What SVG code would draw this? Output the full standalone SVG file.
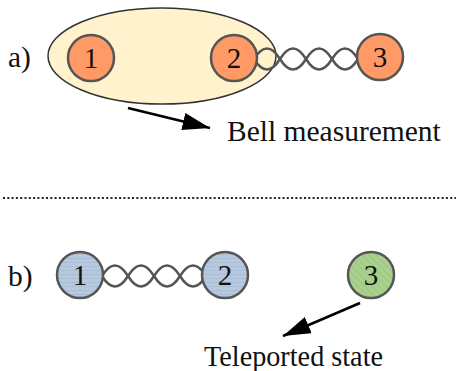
<svg xmlns="http://www.w3.org/2000/svg" width="456" height="371" viewBox="0 0 456 371">
<style>
.lbl{font-family:"Liberation Serif","Times New Roman",serif;font-size:29.5px;fill:#111}
.num{font-family:"Liberation Serif","Times New Roman",serif;font-size:29px;fill:#111;text-anchor:middle}
.node{stroke:#555;stroke-width:2.5}
.orange{fill:#ff9a66}
.twist{fill:none;stroke:#555;stroke-width:2.5}
.arrow{stroke:#000;stroke-width:2.5;fill:none}
</style>
<defs>
<pattern id="blueHatch" width="4" height="4" patternUnits="userSpaceOnUse">
<rect width="4" height="4" fill="#b7c9de"/>
<rect y="2" width="4" height="1" fill="#a9bdd4"/>
</pattern>
<pattern id="greenHatch" width="5" height="5" patternUnits="userSpaceOnUse" patternTransform="rotate(-45)">
<rect width="5" height="5" fill="#a9d18e"/>
<rect width="1" height="5" fill="#9cc57f"/>
</pattern>
<marker id="head" viewBox="0 0 10 10" refX="10" refY="5" markerWidth="11" markerHeight="7" markerUnits="strokeWidth" orient="auto" preserveAspectRatio="none">
<path d="M0,0 L10,5 L0,10 z" fill="#000"/>
</marker>
</defs>

<g id="label-a"><text class="lbl" x="8" y="67">a)</text></g>
<g id="bell-ellipse"><ellipse cx="162" cy="56" rx="114" ry="48" fill="#fff2cc" stroke="#333" stroke-width="1.5"/></g>

<g id="connectors">
<path class="twist" d="M254,59 C262.7,45 271.3,45 280,59 C288.7,73 297.3,73 306,59 C314.7,45 323.3,45 332,59 C340.7,73 349.3,73 358,59"/>
<path class="twist" d="M254,59 C262.7,73 271.3,73 280,59 C288.7,45 297.3,45 306,59 C314.7,73 323.3,73 332,59 C340.7,45 349.3,45 358,59"/>
<path class="twist" d="M102,276 C110.7,262 119.3,262 128,276 C136.7,290 145.3,290 154,276 C162.7,262 171.3,262 180,276 C188.7,290 197.3,290 206,276"/>
<path class="twist" d="M102,276 C110.7,290 119.3,290 128,276 C136.7,262 145.3,262 154,276 C162.7,290 171.3,290 180,276 C188.7,262 197.3,262 206,276"/>
<line class="arrow" x1="128" y1="108" x2="210" y2="128" marker-end="url(#head)"/>
<line class="arrow" x1="360" y1="303" x2="283" y2="336" marker-end="url(#head)"/>
<line x1="3" y1="198" x2="456" y2="198" stroke="#222" stroke-width="2" stroke-dasharray="2 2.3"/>
</g>

<g id="a1"><circle class="node orange" cx="91" cy="58" r="23"/><text class="num" x="91" y="68">1</text></g>
<g id="a2"><circle class="node orange" cx="234" cy="58" r="23"/><text class="num" x="234" y="68">2</text></g>
<g id="a3"><circle class="node orange" cx="380" cy="57" r="23"/><text class="num" x="380" y="67">3</text></g>

<g id="bell-label"><text class="lbl" x="227" y="141">Bell measurement</text></g>

<g id="label-b"><text class="lbl" x="8" y="286">b)</text></g>
<g id="b1"><circle class="node" fill="url(#blueHatch)" cx="80" cy="275" r="23"/><text class="num" x="80" y="285">1</text></g>
<g id="b2"><circle class="node" fill="url(#blueHatch)" cx="225" cy="275" r="23"/><text class="num" x="225" y="285">2</text></g>
<g id="b3"><circle class="node" fill="url(#greenHatch)" cx="371" cy="275" r="23"/><text class="num" x="371" y="285">3</text></g>

<g id="teleport-label"><text class="lbl" x="204" y="366" textLength="179" lengthAdjust="spacingAndGlyphs">Teleported state</text></g>
</svg>
